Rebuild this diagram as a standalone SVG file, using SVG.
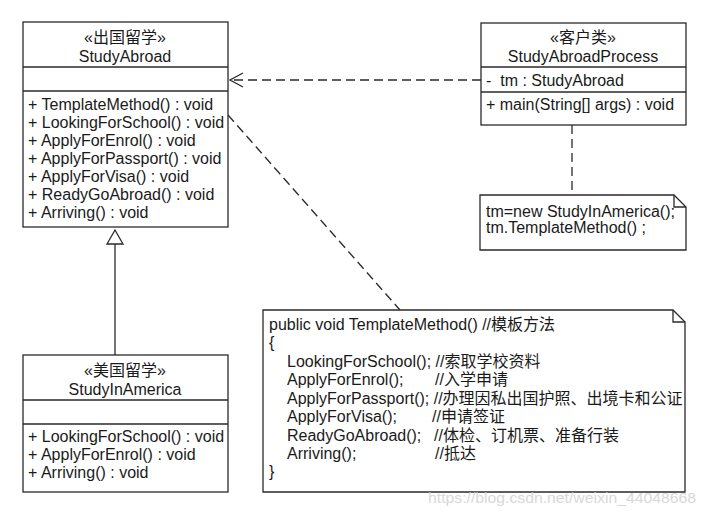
<svg xmlns="http://www.w3.org/2000/svg" width="709" height="515" viewBox="0 0 709 515">
<style>
.box{fill:#fff;stroke:#2a2a2a;stroke-width:1.3}
.ln{fill:none;stroke:#2a2a2a;stroke-width:1.3}
.dash{fill:none;stroke:#2a2a2a;stroke-width:1.3;stroke-dasharray:9 5}
text{font-family:"Liberation Sans","Noto Sans CJK SC",Arial,sans-serif;font-size:16px;fill:#1a1a1a}
.c{text-anchor:middle}
.wm{fill:#d0d0d0;font-size:15px;opacity:0.8}
</style>
<rect width="709" height="515" fill="#fff"/>
<g id="connectors">
<line class="dash" x1="481" y1="80" x2="231" y2="80"/>
<polyline class="ln" points="243,73 230,80 243,87"/>
<line class="ln" x1="115" y1="244" x2="115" y2="355"/>
<polygon class="box" points="115,230 107,244 123,244"/>
<line class="dash" x1="228" y1="115" x2="400" y2="310"/>
<line class="dash" x1="572" y1="125" x2="572" y2="195"/>
</g>
<g id="StudyAbroad">
<rect class="box" x="23" y="22" width="205" height="205"/>
<line class="ln" x1="23" y1="67" x2="228" y2="67"/>
<line class="ln" x1="23" y1="91" x2="228" y2="91"/>
<text class="c" x="125" y="43">«出国留学»</text>
<text class="c" x="125" y="62">StudyAbroad</text>
<text x="28" y="110">+ TemplateMethod() : void</text>
<text x="28" y="128">+ LookingForSchool() : void</text>
<text x="28" y="146">+ ApplyForEnrol() : void</text>
<text x="28" y="164">+ ApplyForPassport() : void</text>
<text x="28" y="182">+ ApplyForVisa() : void</text>
<text x="28" y="200">+ ReadyGoAbroad() : void</text>
<text x="28" y="218">+ Arriving() : void</text>
</g>
<g id="StudyInAmerica">
<rect class="box" x="23" y="355" width="205" height="137"/>
<line class="ln" x1="23" y1="400" x2="228" y2="400"/>
<line class="ln" x1="23" y1="424" x2="228" y2="424"/>
<text class="c" x="125" y="376">«美国留学»</text>
<text class="c" x="125" y="395">StudyInAmerica</text>
<text x="28" y="442">+ LookingForSchool() : void</text>
<text x="28" y="460">+ ApplyForEnrol() : void</text>
<text x="28" y="478">+ Arriving() : void</text>
</g>
<g id="StudyAbroadProcess">
<rect class="box" x="481" y="23" width="205" height="102"/>
<line class="ln" x1="481" y1="67" x2="686" y2="67"/>
<line class="ln" x1="481" y1="92" x2="686" y2="92"/>
<text class="c" x="583" y="43">«客户类»</text>
<text class="c" x="583" y="62">StudyAbroadProcess</text>
<text x="486" y="86">-&#160;&#160;tm : StudyAbroad</text>
<text x="486" y="110">+ main(String[] args) : void</text>
</g>
<g id="note-client">
<path class="box" d="M480,195 H674 L686,207 V250 H480 Z"/>
<path class="ln" d="M674,195 V207 H686"/>
<text x="486" y="217">tm=new StudyInAmerica();</text>
<text x="486" y="233">tm.TemplateMethod() ;</text>
</g>
<g id="note-template">
<path class="box" d="M263,310 H673 L685,322 V492 H263 Z"/>
<path class="ln" d="M673,310 V322 H685"/>
<text x="269" y="330">public void TemplateMethod() //模板方法</text>
<text x="269" y="348">{</text>
<text x="287" y="367">LookingForSchool(); //索取学校资料</text>
<text x="287" y="385">ApplyForEnrol();</text>
<text x="435" y="385">//入学申请</text>
<text x="287" y="404">ApplyForPassport(); //办理因私出国护照、出境卡和公证</text>
<text x="287" y="422">ApplyForVisa();</text>
<text x="432" y="422">//申请签证</text>
<text x="287" y="441">ReadyGoAbroad();</text>
<text x="434" y="441">//体检、订机票、准备行装</text>
<text x="287" y="459">Arriving();</text>
<text x="435" y="459">//抵达</text>
<text x="269" y="477">}</text>
</g>
<text class="wm" x="428" y="503" textLength="268" lengthAdjust="spacingAndGlyphs">https://blog.csdn.net/weixin_44048668</text>
</svg>
